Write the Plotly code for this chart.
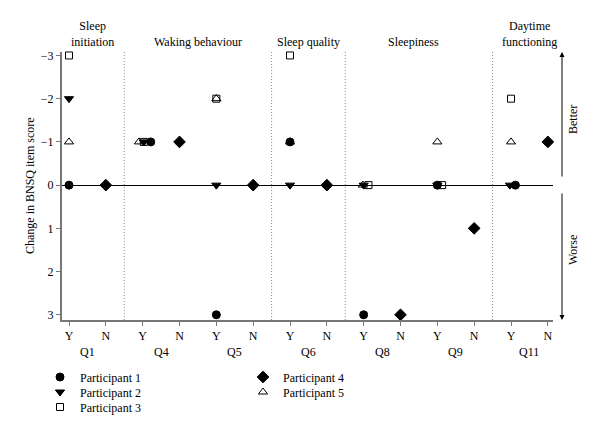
import plotly.graph_objects as go

questions = ["Q1", "Q4", "Q5", "Q6", "Q8", "Q9", "Q11"]
answers = ["Y", "N"]
participants = ["Participant 1", "Participant 2", "Participant 3", "Participant 4", "Participant 5"]
response = ["Y", "Y", "Y", "N", "Y"]

# change in BNSQ item score per question (Q1,Q4,Q5,Q6,Q8,Q9,Q11)
p1 = [0, -1, 3, -1, 3, 0, 0]
p2 = [-2, -1, 0, 0, 0, 0, 0]
p3 = [-3, -1, -2, -3, 0, 0, -2]
p4 = [0, -1, 0, 0, 3, 1, -1]
p5 = [-1, -1, -2, -1, 0, -1, -1]
values = [p1, p2, p3, p4, p5]

# small horizontal dodge (in category units) used in the original to separate overlapping symbols
dodge = [
    [0, 0.22, 0, 0, 0, 0, 0.12],
    [0, 0.03, 0, 0, 0, 0, -0.03],
    [0, 0.03, 0, 0, 0.13, 0.13, 0],
    [0, 0, 0, 0, 0, 0, 0],
    [0, -0.1, 0, 0, -0.02, 0, 0],
]

groups = ["Sleep<br>initiation", "Waking behaviour", "Sleep quality", "Sleepiness", "Daytime<br>functioning"]
group_centers = [0.65, 3.5, 6.5, 9.35, 12.5]
separators = [1.5, 5.5, 7.5, 11.5]

symbols = ["circle", "triangle-down", "square-open", "diamond", "triangle-up-open"]
sizes = [8, 8, 7, 9, 8]

FONT = "Liberation Serif"
FS = 12

# page body has an 8px margin; figure sized to fit the window
OFF = 8
W, H = 600 - OFF, 435 - OFF
# plot area in window pixels: x 62..553, y 52..320
L = 62 - OFF
R = W - (553 - OFF)
T = 52 - OFF
B = H - (320 - OFF)
PH = H - T - B
PW = W - L - R

def py(sy):
    return ((320 - OFF) - (sy - OFF)) / PH

def pxx(sx):
    return ((sx - OFF) - L) / PW

# legend placement (window px of legend box left, item centre)
legend_pos = [(40, 377), (40, 392), (40, 407), (243, 377), (243, 392)]
legend_ids = ["legend", "legend2", "legend3", "legend4", "legend5"]

fig = go.Figure()
for i, name in enumerate(participants):
    off = 0 if response[i] == "Y" else 1
    xs = [2 * q + off + dodge[i][q] for q in range(len(questions))]
    fig.add_trace(go.Scatter(
        x=xs, y=values[i], mode="markers", name=name,
        marker=dict(symbol=symbols[i], size=sizes[i], color="black",
                    line=dict(color="black", width=1)),
        legend=legend_ids[i], cliponaxis=False,
    ))

tickvals = list(range(2 * len(questions)))
ticktext = [answers[k % 2] for k in tickvals]

for s in separators:
    fig.add_shape(type="line", xref="x", yref="paper", x0=s, x1=s, y0=0, y1=1.0,
                  line=dict(color="#888", width=1, dash="1px,2px"))

annotations = []
for g, c in zip(groups, group_centers):
    annotations.append(dict(x=c, y=1.0, xref="x", yref="paper", text=g, showarrow=False,
                            yanchor="bottom", yshift=1, font=dict(size=FS, family=FONT, color="black")))
for qi, q in enumerate(questions):
    annotations.append(dict(x=2 * qi + 0.5, y=py(352), xref="x", yref="paper", text=q, showarrow=False,
                            yanchor="middle", font=dict(size=FS, family=FONT, color="black")))
# y title
annotations.append(dict(x=pxx(30), y=0.5, xref="paper", yref="paper", text="Change in BNSQ item score",
                        textangle=-90, showarrow=False, xanchor="center", yanchor="middle",
                        font=dict(size=FS, family=FONT, color="black")))
# Better / Worse arrows
annotations.append(dict(x=pxx(562), y=1.0, xref="paper", yref="paper", text="", showarrow=True,
                        ax=0, ay=126, axref="pixel", ayref="pixel", arrowhead=2, arrowsize=1,
                        arrowwidth=1, arrowcolor="black"))
annotations.append(dict(x=pxx(562), y=0.0, xref="paper", yref="paper", text="", showarrow=True,
                        ax=0, ay=-128, axref="pixel", ayref="pixel", arrowhead=2, arrowsize=1,
                        arrowwidth=1, arrowcolor="black"))
annotations.append(dict(x=pxx(573), y=py(120), xref="paper", yref="paper", text="Better", textangle=-90,
                        showarrow=False, xanchor="center", yanchor="middle",
                        font=dict(size=FS, family=FONT, color="black")))
annotations.append(dict(x=pxx(573), y=py(250), xref="paper", yref="paper", text="Worse", textangle=-90,
                        showarrow=False, xanchor="center", yanchor="middle",
                        font=dict(size=FS, family=FONT, color="black")))

layout_legends = {}
for lid, (lx, ly) in zip(legend_ids, legend_pos):
    layout_legends[lid] = dict(x=pxx(lx), y=py(ly), xanchor="left", yanchor="middle",
                               orientation="v", font=dict(size=FS, family=FONT, color="black"),
                               itemwidth=30, bgcolor="rgba(0,0,0,0)")

fig.update_layout(
    width=W, height=H,
    margin=dict(l=L, r=R, t=T, b=B, autoexpand=False),
    paper_bgcolor="white", plot_bgcolor="white",
    font=dict(family=FONT, size=FS, color="black"),
    showlegend=True,
    xaxis=dict(range=[-0.19, 13.14], tickvals=tickvals, ticktext=ticktext, showgrid=False,
               zeroline=False, showline=True, linecolor="#777", linewidth=2,
               ticks="outside", ticklen=4, tickcolor="#777", tickwidth=1),
    yaxis=dict(range=[3.12, -3.08], tickvals=[-3, -2, -1, 0, 1, 2, 3], showgrid=False,
               zeroline=True, zerolinecolor="black", zerolinewidth=1,
               showline=True, linecolor="#777", linewidth=2,
               ticks="outside", ticklen=4, tickcolor="#777", tickwidth=1),
    annotations=annotations,
    **layout_legends,
)

fig.write_html("out.html")
